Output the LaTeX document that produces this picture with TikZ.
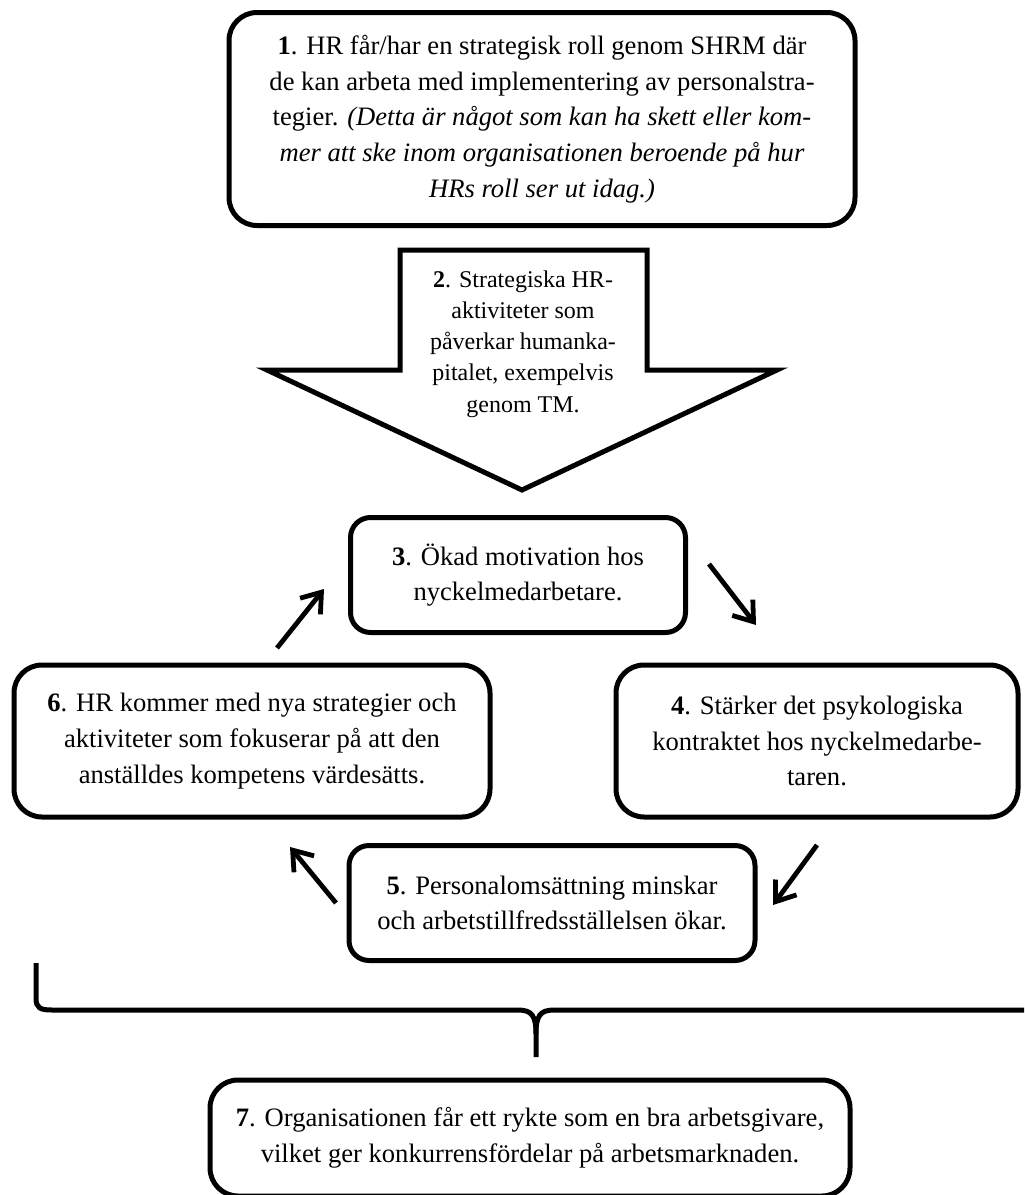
\documentclass[tikz,border=0pt]{standalone}
\usepackage{fontspec}
\setmainfont{Liberation Serif}
\usetikzlibrary{arrows.meta}

\tikzset{
  box/.style={draw, line width=2.5pt, rounded corners=14pt, align=center,
    inner sep=0pt, font=\fontsize{13.3pt}{17.8pt}\selectfont},
  smallbox/.style={box, rounded corners=10pt},
  flow/.style={->, line width=2.4pt},
  >={Straight Barb[length=9pt,width=13pt]}
}

\begin{document}
\begin{tikzpicture}[x=0.5pt,y=-0.5pt]
  \useasboundingbox (0,0) rectangle (1024,1195);
  \clip (0,0) rectangle (1024,1195);
  % boxes
  \node[box, minimum width=313pt, minimum height=106.5pt] (n1) at (542,119)
    {\textbf{1}. HR får/har en strategisk roll genom SHRM där\\
     de kan arbeta med implementering av personalstra-\\
     tegier. \textit{(Detta är något som kan ha skett eller kom-}\\
     \textit{mer att ske inom organisationen beroende på hur}\\
     \textit{HRs roll ser ut idag.)}};
  \draw[line width=2.5pt, line join=miter] (400,250) -- (647,250) -- (647,370)
    -- (777,370) -- (522,490) -- (267,370) -- (400,370) -- cycle;
  \node[align=center, inner sep=0pt, font=\fontsize{12pt}{15.6pt}\selectfont]
    (n2) at (523,344)
    {\textbf{2}. Strategiska HR-\\aktiviteter som\\påverkar humanka-\\
     pitalet, exempelvis\\genom TM.};
  \node[smallbox, minimum width=167.5pt, minimum height=57.5pt] (n3) at (518,575)
    {\textbf{3}. Ökad motivation hos\\nyckelmedarbetare.};
  \node[box, minimum width=201pt, minimum height=76pt] (n4) at (817,741)
    {\textbf{4}. Stärker det psykologiska\\kontraktet hos nyckelmedarbe-\\taren.};
  \node[smallbox, minimum width=203pt, minimum height=57.5pt] (n5) at (552,903)
    {\textbf{5}. Personalomsättning minskar\\och arbetstillfredsställelsen ökar.};
  \node[box, minimum width=238pt, minimum height=76pt] (n6) at (252,741)
    {\textbf{6}. HR kommer med nya strategier och\\
     aktiviteter som fokuserar på att den\\anställdes kompetens värdesätts.};
  \node[box, minimum width=320pt, minimum height=58pt] (n7) at (530,1138)
    {\textbf{7}. Organisationen får ett rykte som en bra arbetsgivare,\\
     vilket ger konkurrensfördelar på arbetsmarknaden.};

  % cycle arrows
  \coordinate (a63) at (277,648); \coordinate (b63) at (324,589);
  \coordinate (a34) at (709,564); \coordinate (b34) at (756,625);
  \coordinate (a45) at (817,845); \coordinate (b45) at (773,905);
  \coordinate (a56) at (336,903); \coordinate (b56) at (290,847);
  \draw[flow] (a63) -- (b63);
  \draw[flow] (a34) -- (b34);
  \draw[flow] (a45) -- (b45);
  \draw[flow] (a56) -- (b56);

  % brace
  \draw[line width=2.5pt] (36,963) -- (36,998) .. controls (36,1008) and (40,1010) .. (52,1010)
    -- (518,1010) .. controls (532,1010) and (536,1016) .. (536,1034) -- (536,1057);
  \draw[line width=2.5pt] (536,1034) .. controls (536,1016) and (540,1010) .. (554,1010)
    -- (1040,1010);
\end{tikzpicture}
\end{document}
